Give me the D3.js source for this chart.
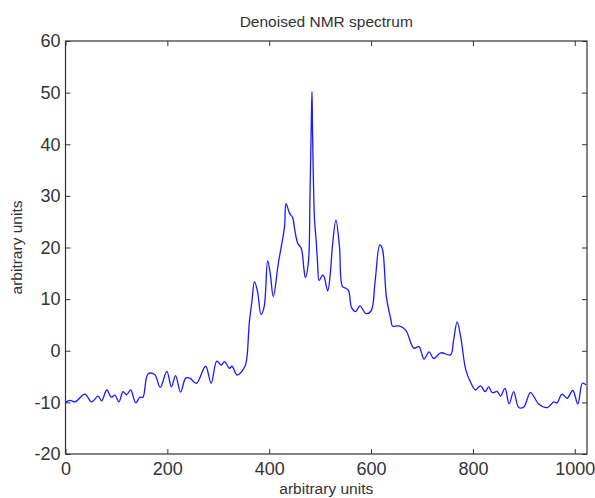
<!DOCTYPE html>
<html lang="en">
<head>
<meta charset="UTF-8">
<title>Denoised NMR spectrum</title>
<style>
  body { margin: 0; background: #fff; }
  text { font-family: "Liberation Sans", Arial, sans-serif; fill: #333; }
  .axis path { display: none; }
  .axis line { stroke: #333; }
</style>
</head>
<body>
<svg width="595" height="498"></svg>
<script src="https://d3js.org/d3.v7.min.js"></script>
<script>
// spectrum (x in points, y in arbitrary units)
var specX = [0, 9, 19, 38, 51, 64, 71, 81, 90, 97, 105, 113, 120, 128, 138, 146, 152, 162, 175, 186,
  199, 208, 216, 226, 236, 244, 257, 275, 286, 297, 306, 312, 322, 327, 337, 352, 356, 361, 366, 371,
  377, 384, 390, 397, 402, 408, 418, 430, 433, 440, 446, 450, 456, 463, 468, 471, 477, 480, 483, 484,
  485, 487, 489, 492, 495, 498, 505, 508, 515, 520, 524, 531, 538, 544, 551, 556, 562, 570, 578, 590,
  600, 608, 617, 622, 630, 639, 642, 655, 668, 684, 694, 704, 714, 723, 737, 756, 762, 769, 776, 786,
  795, 805, 815, 824, 831, 838, 848, 854, 863, 871, 880, 890, 900, 913, 929, 946, 959, 965, 975, 985,
  996, 1006, 1015, 1022];
var specY = [-10, -9.6, -9.9, -8.4, -9.9, -8.8, -9.7, -7.6, -9.0, -8.6, -9.9, -7.9, -8.5, -7.6, -10.1, -9.0, -9.0, -4.5, -4.6, -7.1,
  -4.0, -7.0, -4.8, -8.0, -5.3, -5.3, -6.3, -3.0, -6.3, -2.0, -2.8, -2.1, -3.4, -3.0, -4.7, -3.1, -1.5, 5.5, 9.5, 13.4,
  11.5, 7.0, 8.5, 17.4, 15.0, 10.5, 17, 24, 28.5, 26.6, 25.8, 23.5, 20.8, 19.8, 16, 14.2, 17.2, 29.8, 46, 50.2,
  43, 32, 25.3, 21.6, 17, 13.6, 14.7, 14.3, 11.6, 15, 20.1, 25.3, 20.1, 12.4, 12.1, 11.6, 8.3, 7.6, 8.7, 7.2,
  7.7, 13.5, 20.5, 19.8, 10.5, 6.0, 4.8, 4.8, 4.0, 0.5, 0.8, -1.6, -0.2, -1.5, -0.4, -0.8, 2, 5.6, 2.7, -3.7,
  -6.0, -7.6, -6.8, -7.9, -7.0, -8.1, -7.9, -8.8, -7.3, -10.3, -7.9, -11.0, -10.9, -8.1, -10.3, -11.0, -9.9, -10.1, -8.4, -9.2,
  -7.7, -10.3, -6.3, -6.6];

var xTicks = [0, 200, 400, 600, 800, 1000];
var yTicks = [-20, -10, 0, 10, 20, 30, 40, 50, 60];

var svg = d3.select("svg");
var plotLeft = 65.5, plotRight = 587, plotTop = 41, plotBottom = 454;

var x = d3.scaleLinear().domain([0, 1024]).range([plotLeft, plotRight]);
var y = d3.scaleLinear().domain([-20, 60]).range([plotBottom, plotTop]);

var points = specX.map(function(d, i) { return [d, specY[i]]; });
var plain = function(d) { return String(d); };

// ticks pointing inward on all four sides
svg.append("g").attr("class", "axis")
  .attr("transform", "translate(0," + plotBottom + ")")
  .call(d3.axisBottom(x).tickValues(xTicks).tickFormat(plain).tickSizeInner(-5).tickSizeOuter(0).tickPadding(8))
  .selectAll("text").style("font-size", "18px");

svg.append("g").attr("class", "axis")
  .attr("transform", "translate(0," + plotTop + ")")
  .call(d3.axisTop(x).tickValues(xTicks).tickSizeInner(-5).tickSizeOuter(0).tickFormat(""));

svg.append("g").attr("class", "axis")
  .attr("transform", "translate(" + plotLeft + ",0)")
  .call(d3.axisLeft(y).tickValues(yTicks).tickFormat(plain).tickSizeInner(-5).tickSizeOuter(0).tickPadding(5))
  .selectAll("text").style("font-size", "18px");

svg.append("g").attr("class", "axis")
  .attr("transform", "translate(" + plotRight + ",0)")
  .call(d3.axisRight(y).tickValues(yTicks).tickSizeInner(-5).tickSizeOuter(0).tickFormat(""));

svg.append("rect")
  .attr("x", plotLeft).attr("y", plotTop)
  .attr("width", plotRight - plotLeft).attr("height", plotBottom - plotTop)
  .attr("fill", "none").attr("stroke", "#333").attr("stroke-width", 1.2);

var line = d3.line()
  .x(function(d) { return x(d[0]); })
  .y(function(d) { return y(d[1]); })
  .curve(d3.curveCatmullRom.alpha(0.5));

svg.append("path")
  .datum(points)
  .attr("d", line)
  .attr("fill", "none")
  .attr("stroke", "#1a1aff")
  .attr("stroke-width", 1.3);

svg.append("text")
  .attr("x", (plotLeft + plotRight) / 2).attr("y", 27)
  .attr("text-anchor", "middle")
  .style("font-size", "15.5px")
  .text("Denoised NMR spectrum");

svg.append("text")
  .attr("x", (plotLeft + plotRight) / 2).attr("y", 494)
  .attr("text-anchor", "middle")
  .style("font-size", "15.5px")
  .text("arbitrary units");

svg.append("text")
  .attr("transform", "translate(22," + (plotTop + plotBottom) / 2 + ") rotate(-90)")
  .attr("text-anchor", "middle")
  .style("font-size", "15.5px")
  .text("arbitrary units");
</script>
</body>
</html>
